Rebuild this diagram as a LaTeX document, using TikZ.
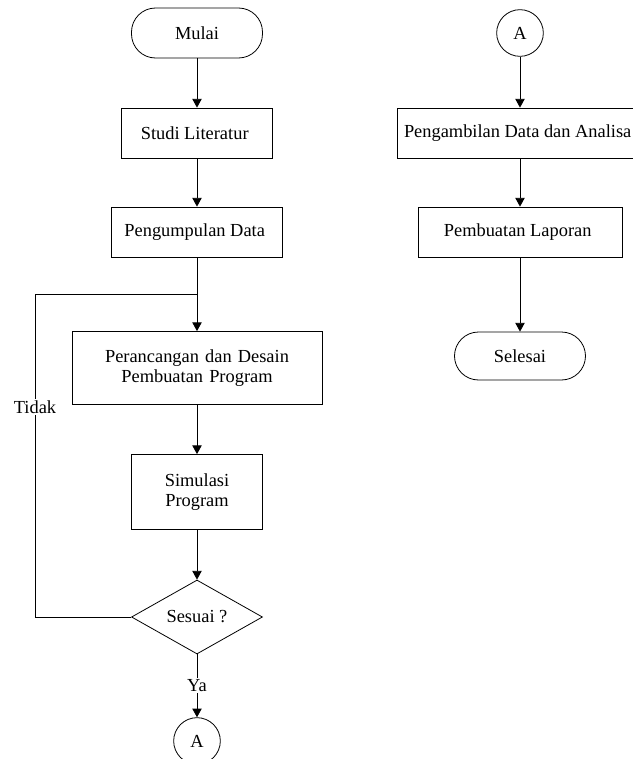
\documentclass[tikz,border=0pt]{standalone}
\usepackage{fontspec}
\setmainfont{Liberation Serif}
\usetikzlibrary{matrix,arrows.meta,shapes.geometric,calc}

\begin{document}
\begin{tikzpicture}[
	>={Triangle[length=6.5pt,width=7pt]},
	line width=0.6pt,
	font=\fontsize{13.8}{15}\selectfont,
	terminal/.style={draw, rounded corners=18pt, minimum width=98.25pt, minimum height=37.5pt},
	proses/.style={draw, minimum height=37.5pt, align=center},
	keputusan/.style={draw, diamond, aspect=1.77, minimum width=98.25pt, minimum height=55.5pt, inner sep=0pt},
	konektor/.style={draw, circle, minimum size=35pt, inner sep=0pt},
	label/.style={fill=white, inner sep=1pt}
]
\matrix (m) [matrix of nodes, nodes={anchor=center}, column sep={242.25pt,between origins}]
{
	|[terminal]| Mulai & |[konektor]| A \\[{75pt,between origins}]
	|[proses, minimum width=113.25pt]| Studi Literatur & |[proses, minimum width=184.5pt]| Pengambilan Data dan Analisa \\[{74.25pt,between origins}]
	|[proses, minimum width=128.25pt]| Pengumpulan Data & |[proses, minimum width=153pt]| Pembuatan Laporan \\[{102pt,between origins}]
	|[proses, text width=180pt, minimum width=187.5pt, minimum height=54.75pt]| {Perancangan dan Desain\\Pembuatan Program} & |[terminal, minimum height=36pt, yshift=9pt]| Selesai \\[{93pt,between origins}]
	|[proses, text width=90pt, minimum width=98.25pt, minimum height=56.25pt]| {Simulasi\\Program} & \\[{93.75pt,between origins}]
	|[keputusan]| Sesuai ? & \\[{93pt,between origins}]
	|[konektor]| A & \\
};
\path[->]
(m-1-1) edge (m-2-1)
(m-2-1) edge (m-3-1)
(m-3-1) edge (m-4-1)
(m-4-1) edge (m-5-1)
(m-5-1) edge (m-6-1)
(m-6-1) edge node [label] {Ya} (m-7-1)
(m-1-2) edge (m-2-2)
(m-2-2) edge (m-3-2)
(m-3-2) edge (m-4-2)
;
% balik ke perancangan
\coordinate (gabung) at ($(m-3-1.south)!0.5!(m-4-1.north)$);
\coordinate (kiri) at ($(gabung)+(-121.5pt,0)$);
\draw (m-6-1.west) -| (kiri) node [label, pos=0.825] {Tidak} -- (gabung);

\pgfresetboundingbox
\useasboundingbox ($(m-1-1.center)+(-147.75pt,24.75pt)$) rectangle ($(m-1-1.center)+(326.25pt,-544.5pt)$);
\end{tikzpicture}
\end{document}
